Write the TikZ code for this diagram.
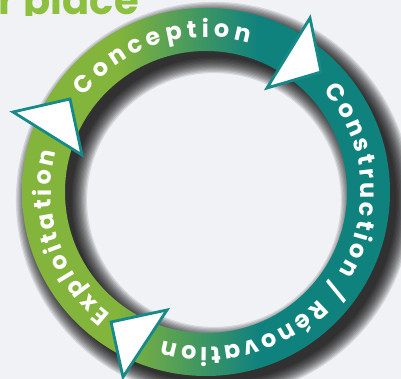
\documentclass[tikz,border=0pt]{standalone}
\usepackage{fontspec}
\setmainfont{Poppins}
\usetikzlibrary{decorations.text,calc}
\definecolor{bgcol}{HTML}{F1F2F6}
\definecolor{ringgreen}{HTML}{83B43B}
\definecolor{ringteal}{HTML}{10827E}
\definecolor{arrowteal}{HTML}{158A88}
\definecolor{titlegreen}{HTML}{8DC03F}
\pgfdeclarehorizontalshading{ringshade}{100bp}{color(0bp)=(ringgreen); color(38bp)=(ringgreen); color(57bp)=(ringteal); color(100bp)=(ringteal)}
\newcommand\ringfont{\fontsize{24}{26}\selectfont\bfseries}
\begin{document}
\begin{tikzpicture}[x=1pt,y=1pt,
  tri/.style={fill=white,draw=arrowteal,line width=2.8pt,line join=miter},
  ringtext/.style={decorate,decoration={text along path,text color=white,text align={fit to path},text={#1}}}]
\useasboundingbox (0,0) rectangle (401,379);
\clip (0,0) rectangle (401,379);
\fill[bgcol] (0,0) rectangle (401,379);
\coordinate (C) at (206,187);
\coordinate (S) at (214,179);
% shadow
\foreach \k [evaluate=\k as \w using 40+2.6*\k] in {0,...,12}
  \draw[black,opacity=0.11,line width=\w pt] (S) circle[radius=162.5];
% ring
\shade[shading=ringshade, even odd rule] (C) circle[radius=184] (C) circle[radius=141];
% texts
\path[ringtext={|\ringfont|Conception}] ($(C)+(142:155)$) arc[start angle=142,end angle=74,radius=155];
\path[ringtext={|\ringfont|Construction / Rénovation}] ($(C)+(41:155)$) arc[start angle=41,end angle=-106,radius=155];
\path[ringtext={|\ringfont|Exploitation}] ($(C)+(232:155)$) arc[start angle=232,end angle=165,radius=155];
% arrowheads
\coordinate (a1) at (310,361); \coordinate (b1) at (321,307); \coordinate (c1) at (267,291);
\coordinate (a2) at (13,267);  \coordinate (b2) at (70,280);  \coordinate (c2) at (82,224);
\coordinate (a3) at (111,57);  \coordinate (b3) at (167,69);  \coordinate (c3) at (123,2);
\draw[tri] (a1) -- (b1) -- (c1) -- cycle;
\draw[tri] (a2) -- (b2) -- (c2) -- cycle;
\draw[tri] (a3) -- (b3) -- (c3) -- cycle;
% title fragment
\begin{scope}
\clip (-5,363) rectangle (220,385);
\node[anchor=base west, inner sep=0pt, text=titlegreen, font=\fontsize{40}{40}\selectfont\bfseries] (title) at (-2,364) {r place};
\end{scope}
\end{tikzpicture}
\end{document}
